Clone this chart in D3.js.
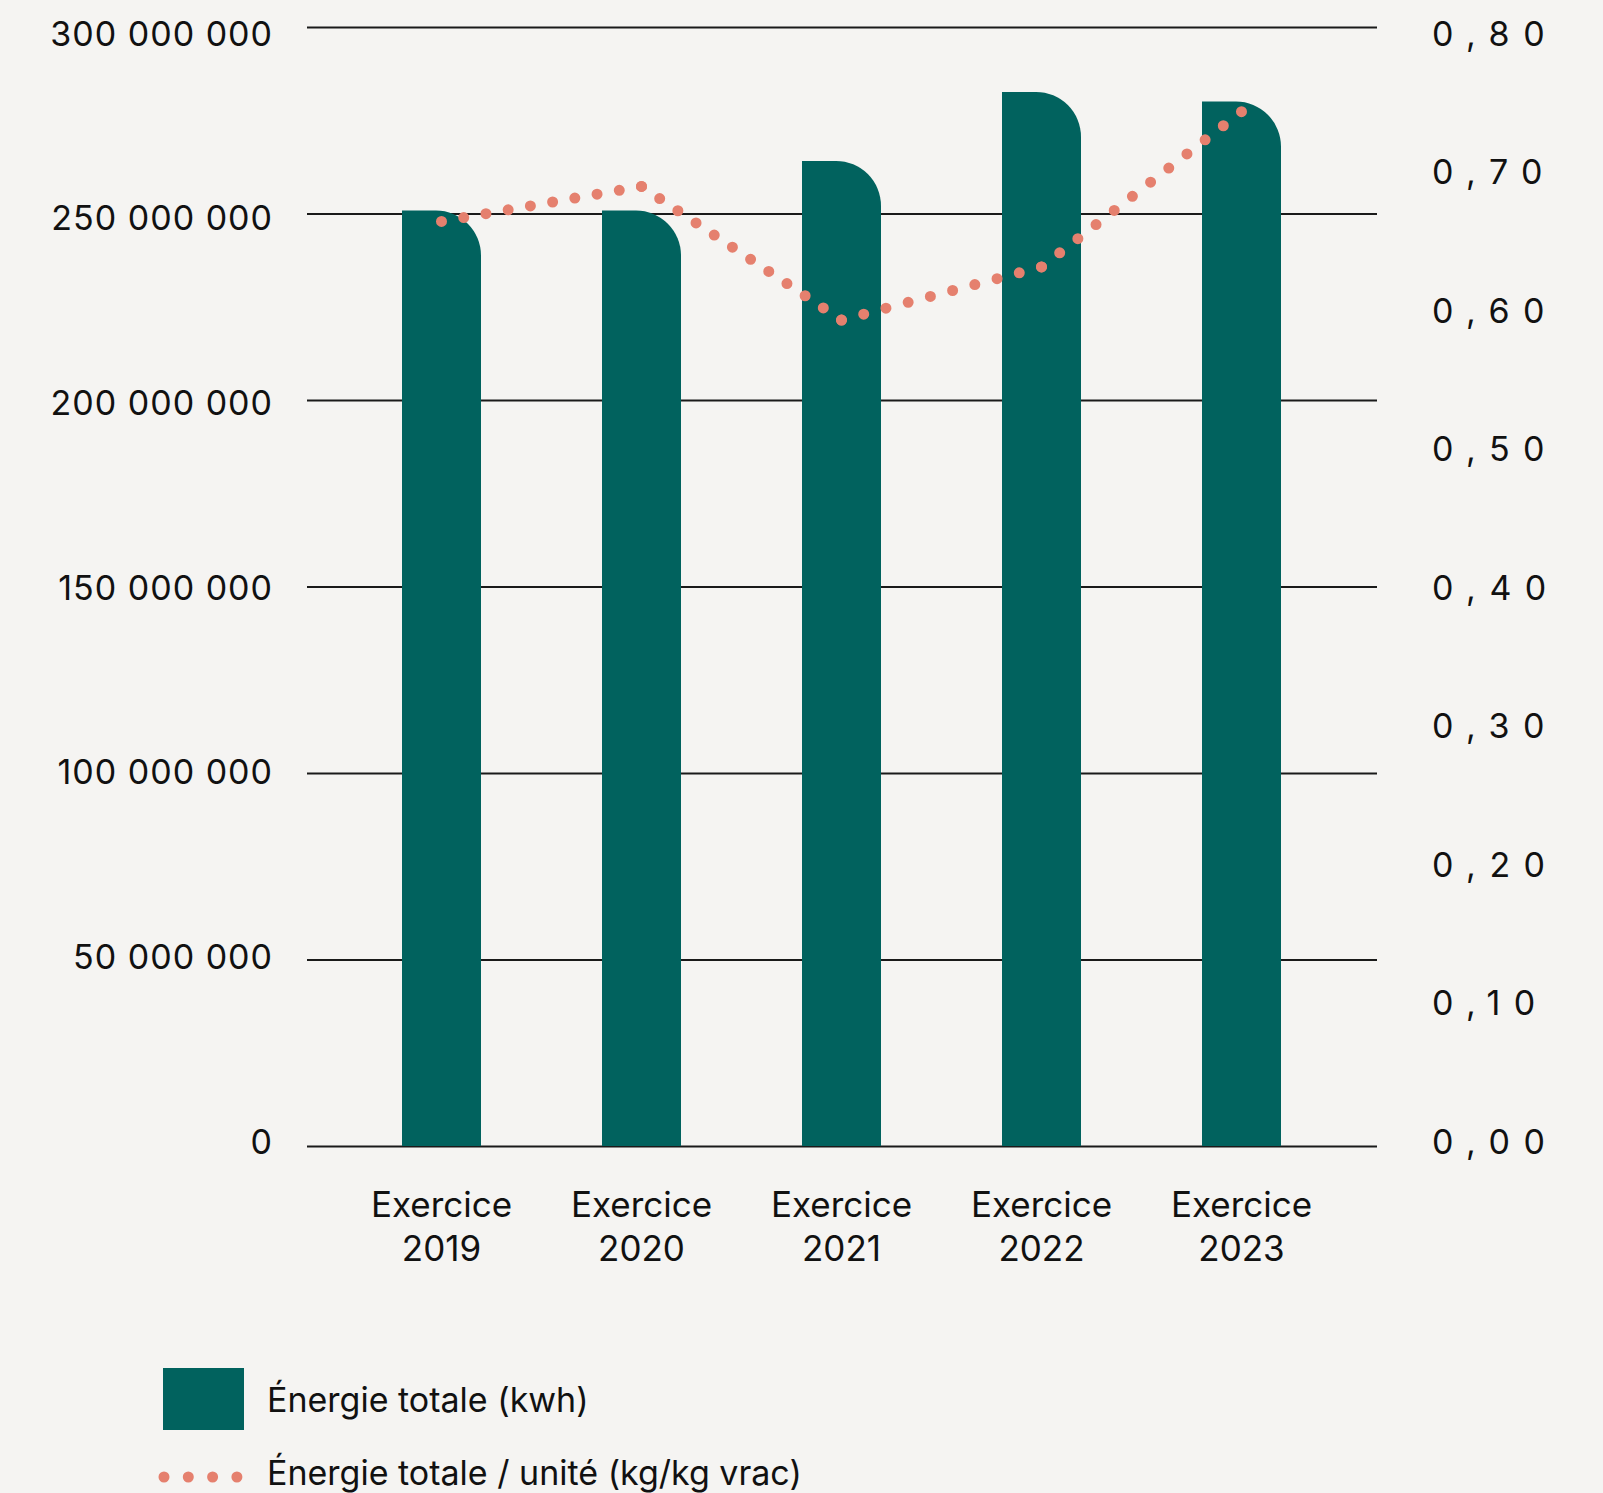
<!DOCTYPE html>
<html lang="fr">
<head>
<meta charset="utf-8">
<script src="https://cdn.jsdelivr.net/npm/d3@7"></script>
<style>
  body { margin: 0; background: #f5f4f2; }
  svg { display: block; }
  text { font-family: Inter, "Liberation Sans", sans-serif; fill: #111; }
</style>
</head>
<body>
<div id="chart"></div>
<script>
// data
var years = ["2019", "2020", "2021", "2022", "2023"];
var categoryPrefix = "Exercice";
var energyKwh = [250.8e6, 250.8e6, 264.1e6, 282.6e6, 280.0e6];
var energyPerUnit = [0.661, 0.686, 0.5905, 0.6285, 0.7395];
var leftTicks = [0, 50e6, 100e6, 150e6, 200e6, 250e6, 300e6];
var rightTicks = [0, 0.1, 0.2, 0.3, 0.4, 0.5, 0.6, 0.7, 0.8];
var legendLabels = ["Énergie totale (kwh)", "Énergie totale / unité (kg/kg vrac)"];

function init() {
    var w = 1603;
    var h = 1493;
    var barColor = "#01625e";
    var lineColor = "#e5806e";

    var svg = d3.select("#chart")
        .append("svg")
        .attr("width", w)
        .attr("height", h);

    var frLocale = d3.formatLocale({ decimal: ",", thousands: " ", grouping: [3], currency: ["", " €"] });
    var fmtLeft = frLocale.format(",.0f");
    var fmtRight = frLocale.format(".2f");

    var gridLeft = 307, gridRight = 1377;

    var xScale = d3.scalePoint()
        .domain(years)
        .range([441.5, 1241.5]);

    var yLeft = d3.scaleLinear().domain([0, 300e6]).range([1146, 27]);
    var yRight = d3.scaleLinear().domain([0, 0.8]).range([1146, 27]);
    // label positions sit slightly inside the gridline span
    var yLeftLab = d3.scaleLinear().domain([0, 300e6]).range([1153, 45]);
    var yRightLab = d3.scaleLinear().domain([0, 0.8]).range([1153, 45]);

    // gridlines
    var grid = d3.axisRight(yLeft)
        .tickValues(leftTicks)
        .tickSize(gridRight - gridLeft)
        .tickFormat("");
    svg.append("g")
        .attr("transform", "translate(" + gridLeft + ",0)")
        .call(grid)
        .call(function (g) { g.select(".domain").remove(); })
        .selectAll("line")
        .attr("stroke", "#1a1a1a")
        .attr("stroke-width", 2);

    // left labels
    svg.append("g")
        .attr("transform", "translate(273,0)")
        .call(d3.axisLeft(yLeftLab).tickValues(leftTicks).tickSize(0).tickPadding(0).tickFormat(fmtLeft))
        .call(function (g) { g.select(".domain").remove(); })
        .selectAll("text")
        .attr("dy", 0)
        .attr("font-family", null)
        .attr("fill", null)
        .style("font-size", "34px")
        .style("letter-spacing", "1px");

    // right labels
    svg.append("g")
        .attr("transform", "translate(1432,0)")
        .call(d3.axisRight(yRightLab).tickValues(rightTicks).tickSize(0).tickPadding(0).tickFormat(fmtRight))
        .call(function (g) { g.select(".domain").remove(); })
        .selectAll("text")
        .attr("dy", 0)
        .attr("font-family", null)
        .attr("fill", null)
        .style("font-size", "34px")
        .style("letter-spacing", "13.5px");

    // bars with one rounded corner (top right)
    var barW = 79, r = 45;
    function barPath(d, i) {
        var x0 = xScale(years[i]) - barW / 2;
        var top = yLeft(d), base = yLeft(0);
        return "M" + x0 + "," + base +
            "L" + x0 + "," + top +
            "L" + (x0 + barW - r) + "," + top +
            "A" + r + "," + r + " 0 0 1 " + (x0 + barW) + "," + (top + r) +
            "L" + (x0 + barW) + "," + base + "Z";
    }
    svg.append("g")
        .selectAll("path")
        .data(energyKwh)
        .enter()
        .append("path")
        .attr("d", barPath)
        .attr("fill", barColor);

    // dotted line, one segment per pair of years so a dot sits on every point
    var pts = energyPerUnit.map(function (v, i) { return [xScale(years[i]), yRight(v)]; });
    var segs = d3.pairs(pts);
    var line = d3.line();
    svg.append("g")
        .selectAll("path")
        .data(segs)
        .enter()
        .append("path")
        .attr("d", function (d) { return line(d); })
        .attr("fill", "none")
        .attr("stroke", lineColor)
        .attr("stroke-width", 11)
        .attr("stroke-linecap", "round")
        .attr("stroke-dasharray", function () {
            var len = this.getTotalLength();
            var n = Math.max(1, Math.round(len / 22.7));
            return "0 " + (len / n - 0.001);
        });

    // category labels
    var xl = svg.append("g")
        .selectAll("text")
        .data(years)
        .enter()
        .append("text")
        .attr("text-anchor", "middle")
        .style("font-size", "35px");
    xl.append("tspan")
        .attr("x", function (d) { return xScale(d); })
        .attr("y", 1217)
        .text(categoryPrefix);
    xl.append("tspan")
        .attr("x", function (d) { return xScale(d); })
        .attr("y", 1261)
        .text(function (d) { return d; });

    // legend
    var lg = svg.append("g");
    lg.append("rect")
        .attr("x", 163).attr("y", 1368)
        .attr("width", 81).attr("height", 62)
        .attr("fill", barColor);
    lg.append("line")
        .attr("x1", 164).attr("x2", 238)
        .attr("y1", 1477).attr("y2", 1477)
        .attr("stroke", lineColor)
        .attr("stroke-width", 11)
        .attr("stroke-linecap", "round")
        .attr("stroke-dasharray", "0 24.3");
    lg.selectAll("text")
        .data(legendLabels)
        .enter()
        .append("text")
        .attr("x", 267)
        .attr("y", function (d, i) { return i === 0 ? 1412 : 1485; })
        .style("font-size", "34px")
        .text(function (d) { return d; });
}

window.onload = init;
</script>
</body>
</html>
